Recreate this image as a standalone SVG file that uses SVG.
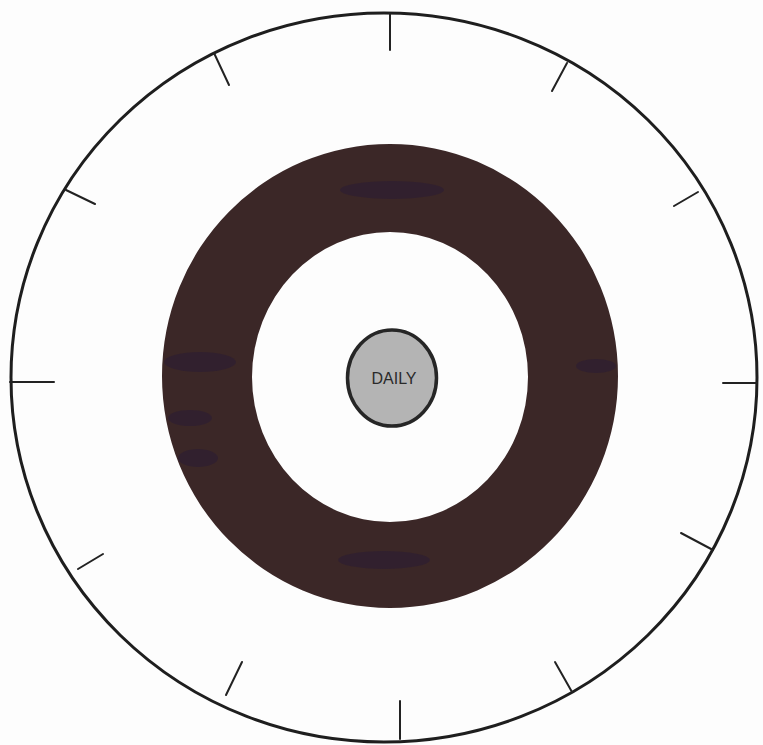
<svg xmlns="http://www.w3.org/2000/svg" width="763" height="745" viewBox="0 0 763 745">
<style>
.tick{stroke:#222;stroke-width:2;stroke-linecap:round}
.outer{fill:none;stroke:#1e1e1e;stroke-width:3}
.blot{fill:#2a1c34;opacity:0.55}
</style>
<rect width="763" height="745" fill="#fdfdfd"/>
<g id="outer-dial">
<ellipse class="outer" cx="384" cy="377.5" rx="373" ry="364.5"/>
</g>
<g id="ticks">
<line class="tick" x1="390" y1="14" x2="390" y2="50"/>
<line class="tick" x1="214" y1="53" x2="229" y2="85"/>
<line class="tick" x1="567" y1="63" x2="552" y2="91"/>
<line class="tick" x1="66" y1="190" x2="95" y2="204"/>
<line class="tick" x1="698" y1="192" x2="674" y2="206"/>
<line class="tick" x1="10" y1="382" x2="54" y2="382"/>
<line class="tick" x1="723" y1="383" x2="757" y2="383"/>
<line class="tick" x1="78" y1="569" x2="103" y2="554"/>
<line class="tick" x1="713" y1="550" x2="681" y2="533"/>
<line class="tick" x1="226" y1="695" x2="242" y2="662"/>
<line class="tick" x1="572" y1="692" x2="555" y2="662"/>
<line class="tick" x1="400" y1="739" x2="400" y2="701"/>
</g>
<g id="ring">
<path fill="#3b2727" fill-rule="evenodd" d="M162,376 A228,232 0 1,0 618,376 A228,232 0 1,0 162,376 Z M252,377 A138,145 0 1,0 528,377 A138,145 0 1,0 252,377 Z"/>
<ellipse class="blot" cx="392" cy="190" rx="52" ry="9"/>
<ellipse class="blot" cx="200" cy="362" rx="36" ry="10"/>
<ellipse class="blot" cx="190" cy="418" rx="22" ry="8"/>
<ellipse class="blot" cx="198" cy="458" rx="20" ry="9"/>
<ellipse class="blot" cx="596" cy="366" rx="20" ry="7"/>
<ellipse class="blot" cx="384" cy="560" rx="46" ry="9" opacity="0.35"/>
</g>
<g id="daily">
<ellipse cx="392" cy="378" rx="44.5" ry="48" fill="#b4b4b4" stroke="#262626" stroke-width="3.5"/>
<text x="394" y="384" text-anchor="middle" font-family="Liberation Sans, Arial, sans-serif" font-size="16" fill="#2a2a2a">DAILY</text>
</g>
</svg>
